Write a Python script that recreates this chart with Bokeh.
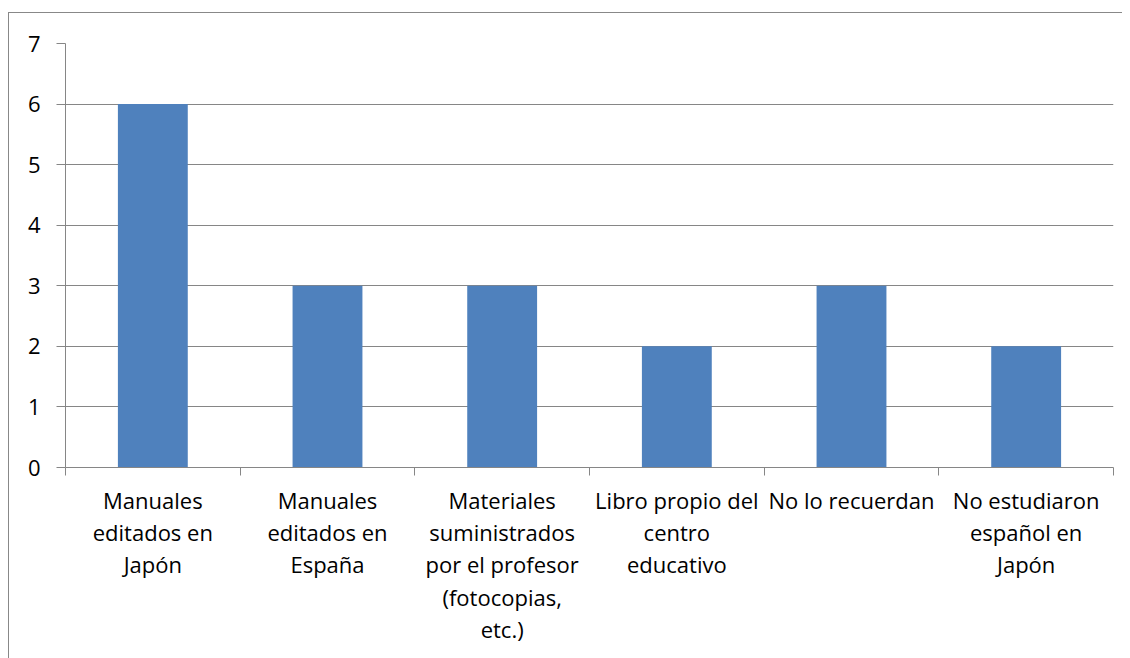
from bokeh.plotting import figure
from bokeh.models import Range1d, FixedTicker
from bokeh.embed import file_html
from bokeh.resources import INLINE

categories = [
    "Manuales editados en Japón",
    "Manuales editados en España",
    "Materiales suministrados por el profesor (fotocopias, etc.)",
    "Libro propio del centro educativo",
    "No lo recuerdan",
    "No estudiaron español en Japón",
]
wrapped = [
    "Manuales\neditados en\nJapón",
    "Manuales\neditados en\nEspaña",
    "Materiales\nsuministrados\npor el profesor\n(fotocopias,\netc.)",
    "Libro propio del\ncentro\neducativo",
    "No lo recuerdan",
    "No estudiaron\nespañol en\nJapón",
]
values = [6, 3, 3, 2, 3, 2]
y_ticks = [0, 1, 2, 3, 4, 5, 6, 7]

GRID = "#868686"
BAR = "#4F81BD"
FONT = "Open Sans"

n = len(categories)
centers = [i + 0.5 for i in range(n)]

p = figure(width=1114, height=646, output_backend="svg", toolbar_location=None,
           x_range=Range1d(0, n), y_range=Range1d(0, 7),
           min_border_left=56, min_border_right=10, min_border_top=30, min_border_bottom=192,
           margin=(12, 0, 0, 8))
p.styles = {"border-left": "1px solid #888888", "border-top": "1px solid #888888"}
p.outline_line_color = None
p.background_fill_color = "white"
p.border_fill_color = "white"

p.vbar(x=centers, top=values, width=0.4, color=BAR, line_color=None)

# y axis
p.yaxis.ticker = FixedTicker(ticks=y_ticks, minor_ticks=[])
p.yaxis.axis_line_color = GRID
p.yaxis.major_tick_line_color = GRID
p.yaxis.major_tick_out = 9
p.yaxis.major_tick_in = 0
p.yaxis.minor_tick_line_color = None
p.yaxis.major_label_text_font = FONT
p.yaxis.major_label_text_font_size = "22px"
p.yaxis.major_label_text_color = "black"
p.yaxis.major_label_standoff = 16
p.ygrid.grid_line_color = GRID
p.ygrid.ticker = FixedTicker(ticks=y_ticks)

# x axis
p.xaxis.ticker = FixedTicker(ticks=centers, minor_ticks=list(range(n + 1)))
p.xaxis.major_label_overrides = {c: w for c, w in zip(centers, wrapped)}
p.xaxis.axis_line_color = GRID
p.xaxis.major_tick_line_color = None
p.xaxis.minor_tick_line_color = GRID
p.xaxis.minor_tick_out = 8
p.xaxis.minor_tick_in = 0
p.xaxis.major_label_text_font = FONT
p.xaxis.major_label_text_font_size = "22px"
p.xaxis.major_label_text_line_height = 1.08
p.xaxis.major_label_text_color = "black"
p.xaxis.major_label_standoff = 9
p.xgrid.grid_line_color = None

open("out.html", "w").write(file_html(p, INLINE))
